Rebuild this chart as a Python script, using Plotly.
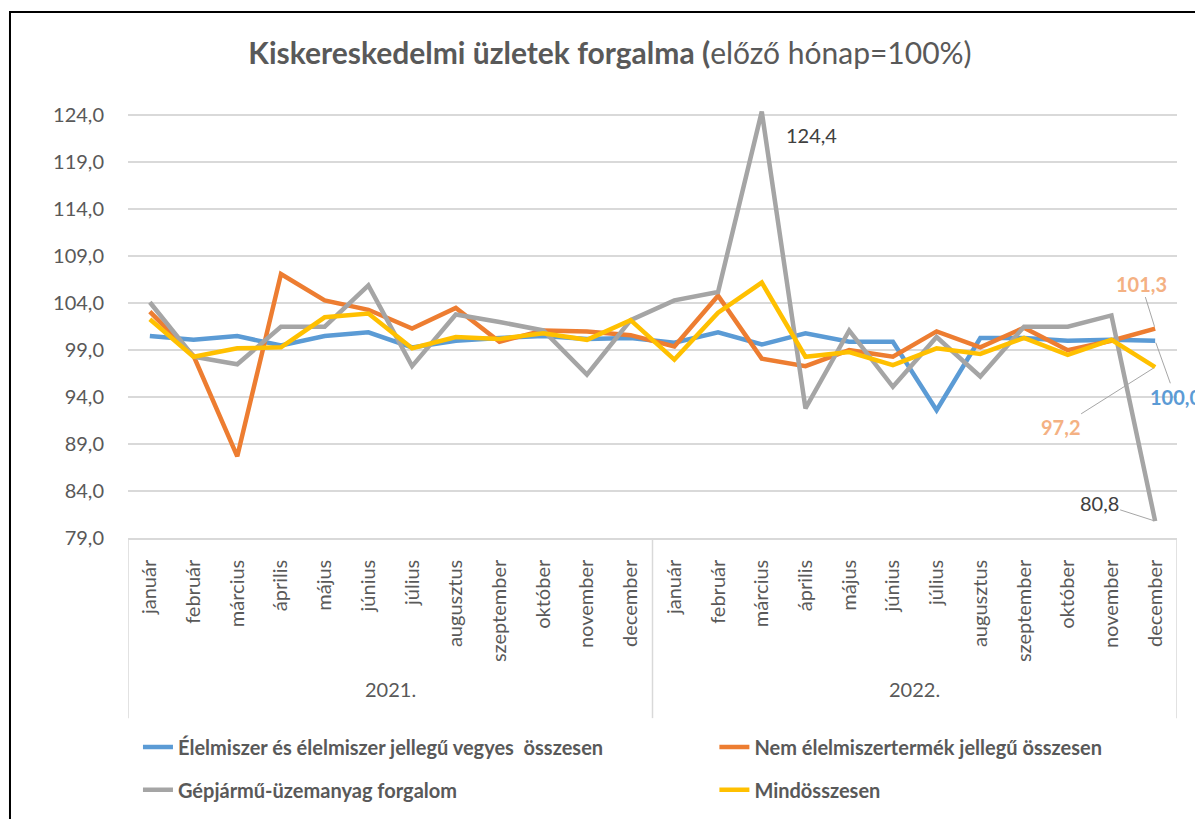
import plotly.graph_objects as go

months = ["január", "február", "március", "április", "május", "június", "július",
          "augusztus", "szeptember", "október", "november", "december"]
years = ["2021.", "2022."]

elelmiszer = [100.5, 100.1, 100.5, 99.5, 100.5, 100.9, 99.3, 100.0, 100.3, 100.5, 100.2, 100.3,
              99.8, 100.9, 99.6, 100.8, 99.9, 99.9, 92.6, 100.3, 100.3, 100.0, 100.1, 100.0]
nem_elelmiszer = [103.1, 98.4, 87.7, 107.1, 104.3, 103.3, 101.3, 103.5, 99.9, 101.1, 101.0, 100.6,
                  99.4, 104.8, 98.1, 97.3, 99.0, 98.3, 101.0, 99.3, 101.4, 99.0, 100.0, 101.3]
gepjarmu = [104.1, 98.3, 97.5, 101.5, 101.5, 105.9, 97.3, 102.8, 102.0, 101.1, 96.4, 102.2,
            104.3, 105.2, 124.4, 92.8, 101.1, 95.1, 100.4, 96.2, 101.5, 101.5, 102.7, 80.8]
mindosszesen = [102.3, 98.3, 99.2, 99.3, 102.5, 102.9, 99.2, 100.4, 100.2, 100.8, 100.1, 102.2,
                98.0, 103.0, 106.2, 98.3, 98.8, 97.4, 99.2, 98.6, 100.3, 98.5, 100.1, 97.2]

series_names = ["Élelmiszer és élelmiszer jellegű vegyes  összesen",
                "Nem élelmiszertermék jellegű összesen",
                "Gépjármű-üzemanyag forgalom",
                "Mindösszesen"]
colors = ["#5B9BD5", "#ED7D31", "#A5A5A5", "#FFC000"]
series = [elelmiszer, nem_elelmiszer, gepjarmu, mindosszesen]
legend_ids = ["legend", "legend2", "legend3", "legend4"]

tick_labels = months * len(years)
xs = list(range(len(tick_labels)))

FONT = "Lato, 'Open Sans', sans-serif"
TXT = "#595959"

fig = go.Figure()
for name, vals, col, lg in zip(series_names, series, colors, legend_ids):
    fig.add_trace(go.Scatter(x=xs, y=vals, mode="lines", name=f"<b>{name}</b>",
                             line=dict(color=col, width=4.5), legend=lg,
                             hoverinfo="skip"))

n = len(xs)
# year labels and group dividers
for i, yr in enumerate(years):
    mid = i * len(months) + (len(months) - 1) / 2
    fig.add_annotation(x=mid, y=-0.382, xref="x", yref="paper", text=yr,
                       showarrow=False, font=dict(size=20, color=TXT, family=FONT))
for i in range(len(years) + 1):
    xd = i * len(months) - 0.5
    fig.add_shape(type="line", xref="x", yref="paper", x0=xd, x1=xd, y0=0, y1=-0.417,
                  line=dict(color="#D9D9D9", width=1.5))

# outer frame
fig.add_shape(type="rect", xref="paper", yref="paper", x0=-0.1125, x1=1.06, y0=-0.72, y1=1.2176,
              line=dict(color="black", width=2), fillcolor="rgba(0,0,0,0)", layer="below")

# data labels
lab_font = dict(size=20, family=FONT)
imax = gepjarmu.index(max(gepjarmu))
fig.add_annotation(x=xs[imax], y=gepjarmu[imax], text=f"{gepjarmu[imax]:.1f}".replace(".", ","),
                   showarrow=False, xshift=50, yshift=-23,
                   font=dict(color="#404040", **lab_font))
last = n - 1
lbls = [
    (nem_elelmiszer[last], "<b>%s</b>", "#F4B183", -14, -45),
    (elelmiszer[last], "<b>%s</b>", "#5B9BD5", 20, 56),
    (mindosszesen[last], "<b>%s</b>", "#F4B183", -95, 60),
    (gepjarmu[last], "%s", "#404040", -56, -18),
]
for v, fmt, col, ax, ay in lbls:
    fig.add_annotation(x=xs[last], y=v, text=fmt % f"{v:.1f}".replace(".", ","),
                       showarrow=True, arrowhead=0, arrowwidth=1, arrowcolor="#A6A6A6",
                       ax=ax, ay=ay, standoff=2,
                       font=dict(color=col, **lab_font))

leg_common = dict(orientation="h", xanchor="left", yanchor="middle",
                  bgcolor="rgba(0,0,0,0)", font=dict(size=20, color=TXT, family=FONT))
legend_pos = [(0.0095, -0.484), (0.559, -0.484), (0.0095, -0.583), (0.559, -0.583)]

fig.update_layout(
    width=1203, height=819,
    margin=dict(l=120, r=34, t=98, b=289),
    paper_bgcolor="white", plot_bgcolor="white",
    separators=", ",
    font=dict(family=FONT, color=TXT),
    title=dict(text="<b>Kiskereskedelmi üzletek forgalma (</b>előző hónap=100%)",
               x=0.5004, xanchor="center", y=1 - 45 / 819, yanchor="middle",
               font=dict(size=30, color=TXT, family=FONT)),
    xaxis=dict(range=[-0.5, n - 0.5], tickmode="array", tickvals=xs, ticktext=tick_labels,
               tickangle=-90, showgrid=False, zeroline=False, automargin=False,
               showline=True, linecolor="#D9D9D9", linewidth=1.5,
               ticks="", ticklabelstandoff=12,
               tickfont=dict(size=20, color=TXT, family=FONT)),
    yaxis=dict(range=[79, 125], tick0=79, dtick=5, tickformat=".1f", automargin=False,
               showgrid=True, gridcolor="#D9D9D9", gridwidth=1.5, zeroline=False,
               showline=False, ticks="", ticklabelstandoff=23,
               tickfont=dict(size=20, color=TXT, family=FONT)),
    showlegend=True,
)
for lg, (lx, ly) in zip(legend_ids, legend_pos):
    fig.update_layout({lg: dict(x=lx, y=ly, **leg_common)})

fig.write_html("out.html")
